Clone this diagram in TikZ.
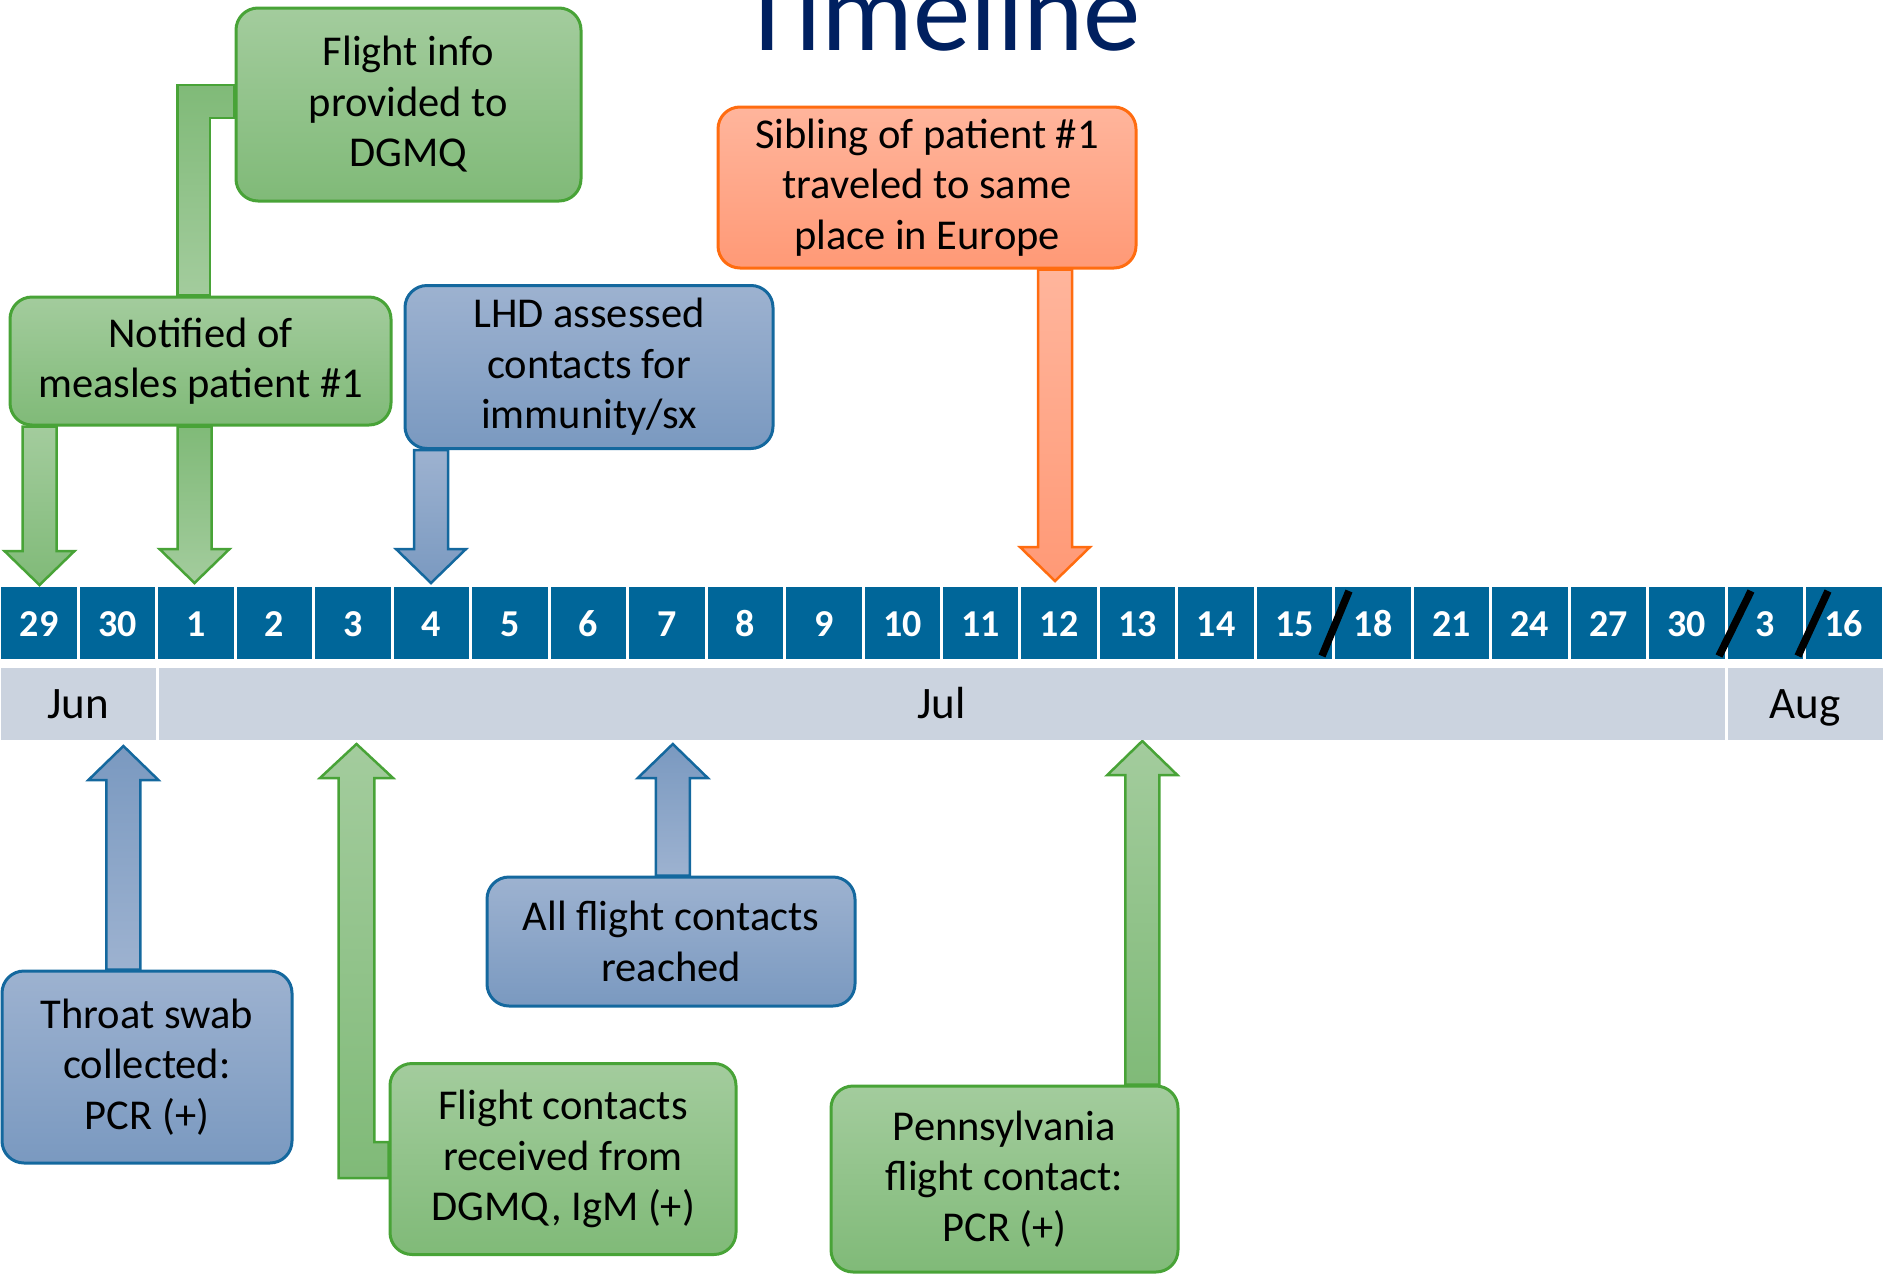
\documentclass[tikz,border=0pt]{standalone}
\usepackage{fontspec}
\setmainfont{Carlito}
\usetikzlibrary{calc}
\pgfdeclarelayer{bg}
\pgfsetlayers{bg,main}
\definecolor{gtop}{RGB}{163,204,157}
\definecolor{gbot}{RGB}{128,186,120}
\definecolor{gline}{RGB}{72,163,55}
\definecolor{btop}{RGB}{157,178,208}
\definecolor{bbot}{RGB}{122,153,192}
\definecolor{bline}{RGB}{20,104,158}
\definecolor{otop}{RGB}{255,181,156}
\definecolor{obot}{RGB}{255,153,118}
\definecolor{oline}{RGB}{255,108,16}
\definecolor{cellblue}{RGB}{0,102,153}
\definecolor{monthgray}{RGB}{203,211,223}
\definecolor{titleblue}{RGB}{0,32,96}
\newcommand{\blkarrow}[3]{%
  \path[#3] let \p1=#1, \p2=#2, \n1={ifthenelse(\y1>\y2,1,-1)} in
    ({\x2-17pt},{\y1}) -- ({\x2-17pt},{\y2+\n1*34pt}) -- ({\x2-35pt},{\y2+\n1*34pt})
    -- (\p2) -- ({\x2+35pt},{\y2+\n1*34pt}) -- ({\x2+17pt},{\y2+\n1*34pt})
    -- ({\x2+17pt},{\y1}) -- cycle;}
\tikzset{
  bodyfont/.style={font=\fontsize{42.5}{50.5}\selectfont},
  box/.style={rounded corners=22pt, line width=3pt, inner sep=0pt, align=center, text=black, bodyfont},
  gbox/.style={box, draw=gline, top color=gtop, bottom color=gbot},
  bbox/.style={box, draw=bline, top color=btop, bottom color=bbot},
  obox/.style={box, draw=oline, top color=otop, bottom color=obot},
  garrowA/.style={draw=gline, line width=2.5pt, top color=gtop, bottom color=gbot},
  garrowB/.style={draw=gline, line width=2.5pt, top color=gbot, bottom color=gtop},
  barrowA/.style={draw=bline, line width=2.5pt, top color=btop, bottom color=bbot},
  barrowB/.style={draw=bline, line width=2.5pt, top color=bbot, bottom color=btop},
  oarrow/.style={draw=oline, line width=2.5pt, top color=otop, bottom color=obot},
  cell/.style={fill=cellblue, minimum width=75.5pt, minimum height=72pt, inner sep=0pt,
    text=white, text height=23.3pt, text depth=0pt,
    font=\bfseries\fontsize{38}{40}\selectfont},
  month/.style={fill=monthgray, minimum height=72pt, inner sep=0pt,
    text height=28.3pt, text depth=0pt, font=\fontsize{45}{48}\selectfont},
  slash/.style={line width=7.5pt, black}
}
\begin{document}
\begin{tikzpicture}[x=1pt,y=-1pt]
\useasboundingbox (0,0) rectangle (1883,1275);
% title
\node[anchor=base west, inner sep=0pt, text=titleblue, font=\fontsize{115}{120}\selectfont] (title) at (739,50) {Timeline};
% day cells
\foreach \lab [count=\i] in {29,30,1,2,3,4,5,6,7,8,9,10,11,12,13,14,15,18,21,24,27,30,3,16}
  \node[cell] (c\i) at ({(\i-0.5)*78.458},623) {\raisebox{-2pt}{\lab}};
% months
\node[month, minimum width=155.5pt] (jun) at (78.46,704) {Jun};
\node[month, minimum width=1566pt] (jul) at (941.5,704) {Jul};
\node[month, minimum width=155pt] (aug) at (1805,704) {Aug};
% break marks
\draw[slash] (1322,656) -- (1349,591);
\draw[slash] (1719,656) -- (1751,591);
\draw[slash] (1798,656) -- (1828,591);
% boxes
\node[gbox, minimum width=345pt, minimum height=193pt] (A) at (408.5,104.5) {Flight info\\provided to\\DGMQ};
\node[gbox, minimum width=381pt, minimum height=128pt] (B) at (200.5,361) {Notified of\\measles patient \#1};
\node[bbox, minimum width=368pt, minimum height=163pt] (C) at (589,367) {LHD assessed\\contacts for\\immunity/sx};
\node[obox, minimum width=418pt, minimum height=161pt] (D) at (927,187.5) {Sibling of patient \#1\\traveled to same\\place in Europe};
\node[bbox, minimum width=290pt, minimum height=192pt] (E) at (147,1067) {Throat swab\\collected:\\PCR (+)};
\node[gbox, minimum width=346pt, minimum height=191pt] (F) at (563,1159) {Flight contacts\\received from\\DGMQ, IgM (+)};
\node[bbox, minimum width=368pt, minimum height=129pt] (G) at (671,941.5) {All flight contacts\\reached};
\node[gbox, minimum width=347pt, minimum height=186pt] (H) at (1004.5,1179) {Pennsylvania\\flight contact:\\PCR (+)};
% arrow tips
\coordinate (t1) at (39.5,585);
\coordinate (t2) at (194.5,583);
\coordinate (t3) at (431,583);
\coordinate (t4) at (1055,581);
\coordinate (tE) at (123.4,746);
\coordinate (tF) at (356.5,744);
\coordinate (tG) at (672.8,744);
\coordinate (tH) at (1142.3,741);
\begin{pgfonlayer}{bg}
  % band from Notified box to Flight info box
  \path[garrowB] (B.north -| 177.6,0) -- (177.6,85) -- (A.west |- 0,85) -- (A.west |- 0,118)
    -- (210,118) -- (B.north -| 210,0) -- cycle;
  \blkarrow{(B.south -| t1)}{(t1)}{garrowA}
  \blkarrow{(B.south -| t2)}{(t2)}{garrowB}
  \blkarrow{(C.south -| t3)}{(t3)}{barrowA}
  \blkarrow{(D.south -| t4)}{(t4)}{oarrow}
  \blkarrow{(E.north -| tE)}{(tE)}{barrowB}
  \blkarrow{(G.north -| tG)}{(tG)}{barrowB}
  \blkarrow{(H.north -| tH)}{(tH)}{garrowA}
  % elbow arrow from Flight contacts box
  \path[garrowA] (F.west |- 0,1142) -- (374.3,1142) -- (374.3,778) -- (393,778) -- (tF)
    -- (320,778) -- (338.7,778) -- (338.7,1178) -- (F.west |- 0,1178) -- cycle;
\end{pgfonlayer}
\end{tikzpicture}
\end{document}
